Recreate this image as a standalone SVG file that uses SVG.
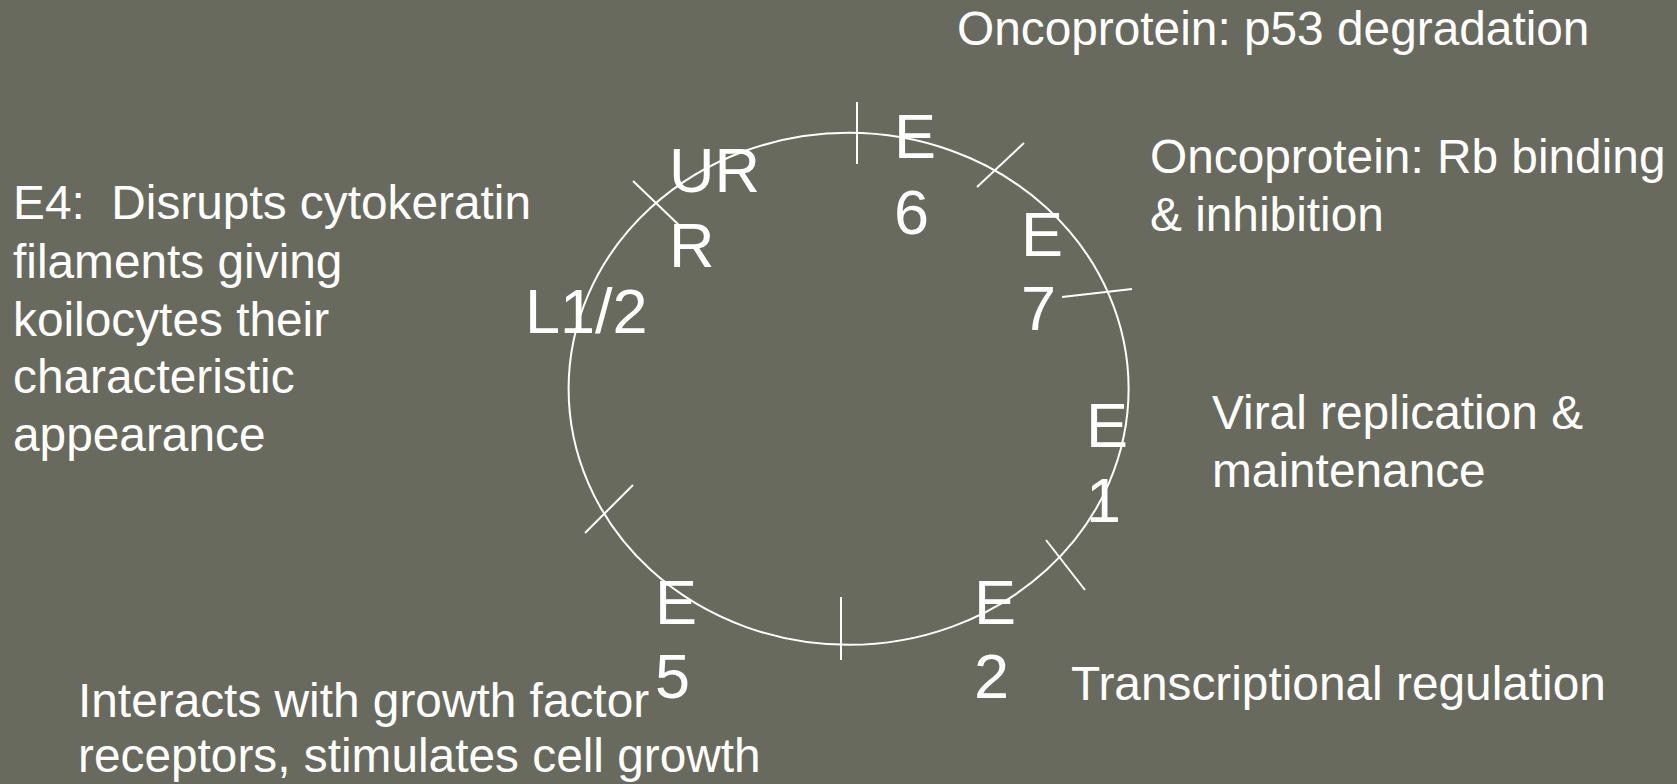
<svg xmlns="http://www.w3.org/2000/svg" width="1677" height="784" viewBox="0 0 1677 784">
<style>
.t{font-family:"Liberation Sans",Arial,sans-serif;font-size:47.8px;fill:#ffffff;white-space:pre}
.g{font-family:"Liberation Sans",Arial,sans-serif;font-size:63px;fill:#ffffff}
.l{stroke:#ffffff;stroke-width:2;fill:none}
</style>
<rect width="1677" height="784" fill="#686a5d"/>
<g id="connectors">
<ellipse class="l" cx="848.6" cy="388.8" rx="280" ry="256"/>
<line class="l" x1="857" y1="102" x2="857" y2="164"/>
<line class="l" x1="633" y1="181" x2="682" y2="228"/>
<line class="l" x1="1024" y1="143" x2="977" y2="187"/>
<line class="l" x1="1062" y1="297" x2="1132" y2="289"/>
<line class="l" x1="633" y1="485" x2="585" y2="533"/>
<line class="l" x1="841" y1="597" x2="841" y2="660"/>
<line class="l" x1="1046" y1="540" x2="1085" y2="590"/>
</g>
<g id="urr"><text class="g" x="669" y="192">UR</text><text class="g" x="669" y="267">R</text></g>
<g id="e6"><text class="g" x="894" y="158">E</text><text class="g" x="894" y="234">6</text></g>
<g id="e7"><text class="g" x="1021" y="256">E</text><text class="g" x="1021" y="330">7</text></g>
<g id="l12"><text class="g" x="525" y="333">L1/2</text></g>
<g id="e1"><text class="g" x="1086" y="447">E</text><text class="g" x="1086" y="522">1</text></g>
<g id="e5"><text class="g" x="655" y="624">E</text><text class="g" x="655" y="698">5</text></g>
<g id="e2"><text class="g" x="974" y="624">E</text><text class="g" x="974" y="698">2</text></g>
<g id="desc-e6"><text class="t" x="957" y="45">Oncoprotein: p53 degradation</text></g>
<g id="desc-e7"><text class="t" x="1150" y="173">Oncoprotein: Rb binding</text><text class="t" x="1150" y="231">&amp; inhibition</text></g>
<g id="desc-e4"><text class="t" x="13" y="219" xml:space="preserve">E4:  Disrupts cytokeratin</text><text class="t" x="13" y="278">filaments giving</text><text class="t" x="13" y="336">koilocytes their</text><text class="t" x="13" y="393">characteristic</text><text class="t" x="13" y="451">appearance</text></g>
<g id="desc-e1"><text class="t" x="1212" y="429">Viral replication &amp;</text><text class="t" x="1212" y="487">maintenance</text></g>
<g id="desc-e2"><text class="t" x="1071" y="700">Transcriptional regulation</text></g>
<g id="desc-e5"><text class="t" x="78" y="717">Interacts with growth factor</text><text class="t" x="78" y="772">receptors, stimulates cell growth</text></g>
</svg>
